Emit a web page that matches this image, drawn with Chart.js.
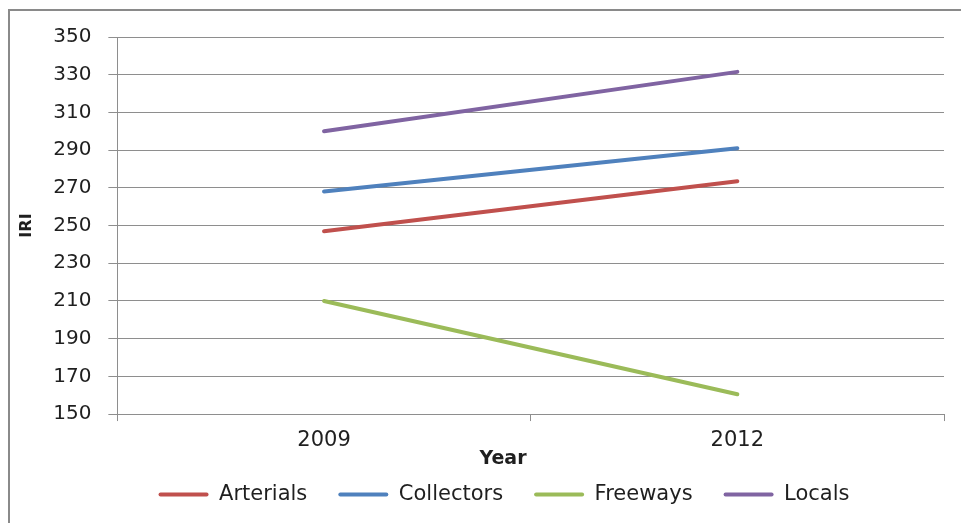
<!DOCTYPE html>
<html>
<head>
<meta charset="utf-8">
<script src="https://cdn.jsdelivr.net/npm/chart.js@4.4.0/dist/chart.umd.min.js"></script>
<style>
    html, body { margin: 0; padding: 0; background: #fff; }
    #wrap { position: relative; width: 961px; height: 523px; overflow: hidden; }
    #frame {
        position: absolute; left: 8px; top: 9px; width: 1000px; height: 600px;
        border-left: 2px solid #8a8a8a; border-top: 2px solid #8a8a8a;
    }
    #chart { position: absolute; left: 0; top: 0; }
</style>
</head>
<body>
<div id="wrap">
    <div id="frame"></div>
    <canvas id="chart" width="961" height="523"></canvas>
</div>
<script>
// ============================================
// Data
// ============================================
var years = ['2009', '2012'];
var arterials = [247, 273.5];
var collectors = [268, 291];
var freeways = [210, 160.5];
var locals = [300, 331.5];

var xTitle = 'Year';
var yTitle = 'IRI';

var gridColor = '#8e8e8e';
var textColor = '#1f1f1f';
var baseFont = 'DejaVu Sans';

function makeSeries(label, data, color) {
    return {
        label: label,
        data: data,
        borderColor: color,
        backgroundColor: color,
        borderWidth: 4,
        borderCapStyle: 'round',
        pointRadius: 0,
        pointHoverRadius: 0,
        tension: 0
    };
}

// Excel centres the legend and the x title on the full (uncropped) chart,
// which sits a little left of the plot centre; the legend also sits tighter
// under the axis than Chart.js would put it
var offCentrePlugin = {
    id: 'offCentre',
    afterLayout: function(chart) {
        var lg = chart.legend;
        if (lg) {
            lg.left += 24;
            lg.right += 24;
            lg.top -= 8;
            lg.bottom -= 8;
        }
    },
    afterDraw: function(chart) {
        var c = chart.ctx;
        c.save();
        c.font = 'bold 19px "' + baseFont + '"';
        c.fillStyle = textColor;
        c.textAlign = 'center';
        c.textBaseline = 'middle';
        c.fillText(xTitle, 503, 459);
        c.restore();
    }
};

// ============================================
// Chart
// ============================================
var ctx = document.getElementById('chart');

new Chart(ctx, {
    type: 'line',
    data: {
        labels: years,
        datasets: [
            makeSeries('Arterials', arterials, '#c0504d'),
            makeSeries('Collectors', collectors, '#4f81bd'),
            makeSeries('Freeways', freeways, '#9bbb59'),
            makeSeries('Locals', locals, '#8064a2')
        ]
    },
    plugins: [offCentrePlugin],
    options: {
        responsive: false,
        animation: false,
        devicePixelRatio: 1,
        layout: {
            padding: { left: 16, right: 17, top: 37, bottom: 0 }
        },
        plugins: {
            tooltip: { enabled: false },
            legend: {
                display: true,
                position: 'bottom',
                labels: {
                    color: textColor,
                    font: { family: baseFont, size: 21 },
                    boxWidth: 50,
                    boxHeight: 4,
                    padding: 31,
                    useBorderRadius: true,
                    borderRadius: 2,
                    generateLabels: function(chart) {
                        var items = Chart.defaults.plugins.legend.labels.generateLabels(chart);
                        items.forEach(function(item) {
                            item.lineWidth = 0;
                        });
                        return items;
                    }
                }
            }
        },
        scales: {
            x: {
                type: 'category',
                offset: true,
                grid: {
                    offset: true,
                    drawOnChartArea: false,
                    drawTicks: true,
                    tickLength: 7,
                    color: gridColor
                },
                border: { display: true, color: gridColor },
                ticks: {
                    color: textColor,
                    font: { family: baseFont, size: 21, lineHeight: 0.95 },
                    padding: 10
                },
                title: { display: false }
            },
            y: {
                min: 150,
                max: 350,
                grid: {
                    color: gridColor,
                    tickLength: 9
                },
                border: { display: true, color: gridColor },
                ticks: {
                    stepSize: 20,
                    color: textColor,
                    font: { family: baseFont, size: 20 },
                    padding: 17
                },
                title: {
                    display: true,
                    text: yTitle,
                    color: textColor,
                    font: { family: baseFont, size: 16, weight: 'bold' },
                    padding: { top: 1, bottom: 0 }
                }
            }
        }
    }
});
</script>
</body>
</html>
